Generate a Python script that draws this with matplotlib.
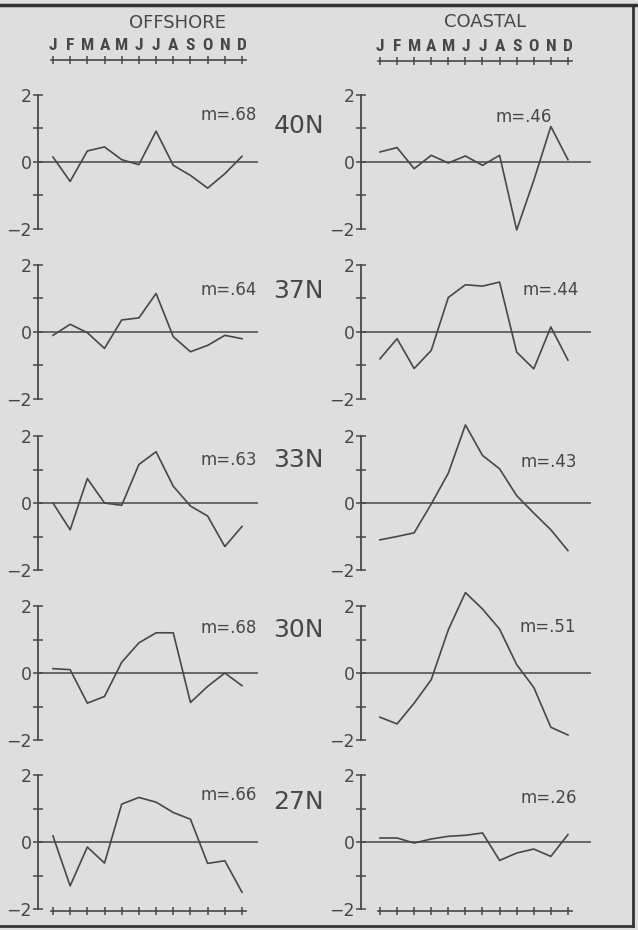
import matplotlib
matplotlib.use("Agg")
import matplotlib.pyplot as plt
from matplotlib.lines import Line2D

months = ["J", "F", "M", "A", "M", "J", "J", "A", "S", "O", "N", "D"]
latitudes = ["40N", "37N", "33N", "30N", "27N"]

offshore_m = [".68", ".64", ".63", ".68", ".66"]
coastal_m = [".46", ".44", ".43", ".51", ".26"]

offshore_40 = [0.15, -0.58, 0.33, 0.45, 0.07, -0.08, 0.92, -0.10, -0.40, -0.78, -0.35, 0.17]
offshore_37 = [-0.10, 0.23, -0.02, -0.49, 0.36, 0.42, 1.15, -0.14, -0.59, -0.40, -0.10, -0.20]
offshore_33 = [0.00, -0.80, 0.73, 0.00, -0.07, 1.15, 1.53, 0.50, -0.09, -0.39, -1.30, -0.70]
offshore_30 = [0.13, 0.10, -0.90, -0.70, 0.32, 0.90, 1.20, 1.20, -0.88, -0.40, 0.00, -0.38]
offshore_27 = [0.18, -1.31, -0.15, -0.63, 1.13, 1.33, 1.19, 0.88, 0.68, -0.64, -0.56, -1.50]

coastal_40 = [0.30, 0.43, -0.20, 0.20, -0.03, 0.18, -0.10, 0.20, -2.03, -0.55, 1.06, 0.07]
coastal_37 = [-0.80, -0.20, -1.09, -0.55, 1.03, 1.41, 1.37, 1.49, -0.60, -1.10, 0.15, -0.84]
coastal_33 = [-1.10, -1.00, -0.89, -0.03, 0.89, 2.33, 1.42, 1.02, 0.22, -0.30, -0.80, -1.42]
coastal_30 = [-1.32, -1.52, -0.90, -0.20, 1.29, 2.40, 1.91, 1.31, 0.25, -0.43, -1.62, -1.85]
coastal_27 = [0.12, 0.12, -0.03, 0.09, 0.17, 0.20, 0.27, -0.55, -0.33, -0.21, -0.43, 0.22]

offshore = [offshore_40, offshore_37, offshore_33, offshore_30, offshore_27]
coastal = [coastal_40, coastal_37, coastal_33, coastal_30, coastal_27]

# layout (pixels)
W, H = 638, 930
BG = "#dedede"
INK = "#474747"
row_tops = [95, 265, 436, 606, 775]
row_h = 134
left_x0, left_x1, left_xlim = 38, 258, (-0.87, 11.93)
right_x0, right_x1, right_xlim = 361, 591, (-1.11, 12.35)
left_m_y = [1.40, 1.25, 1.28, 1.34, 1.40]
right_m_x = [8.4, 10.0, 9.9, 9.8, 9.9]
right_m_y = [1.34, 1.25, 1.23, 1.37, 1.32]
lat_y = [1.07, 1.22, 1.28, 1.28, 1.20]

fig = plt.figure(figsize=(W / 100, H / 100), dpi=100)
fig.patch.set_facecolor(BG)


def px_axes(x0, x1, top, h):
    return fig.add_axes([x0 / W, 1 - (top + h) / H, (x1 - x0) / W, h / H])


def panel(x0, x1, xlim, top, values):
    ax = px_axes(x0, x1, top, row_h)
    ax.set_facecolor("none")
    ax.set_xlim(*xlim)
    ax.set_ylim(-2, 2)
    for side in ["top", "right", "bottom"]:
        ax.spines[side].set_visible(False)
    ax.spines["left"].set_color(INK)
    ax.spines["left"].set_linewidth(1.3)
    ax.set_xticks([])
    ax.set_yticks([-2, -1, 0, 1, 2])
    ax.set_yticklabels(["\u22122", "", "0", "", "2"])
    ax.tick_params(axis="y", direction="inout", length=7, width=1.1, color=INK,
                   labelsize=12.5, labelcolor=INK, pad=1)
    ax.axhline(0, color=INK, lw=1.1)
    ax.plot(range(12), values, color=INK, lw=1.2, clip_on=False)
    return ax


def month_scale(x0, x1, xlim, y, letters):
    mx = px_axes(x0, x1, y - 20, 20)
    mx.set_facecolor("none")
    mx.set_xlim(*xlim)
    mx.set_ylim(0, 1)
    for side in ["top", "right", "left"]:
        mx.spines[side].set_visible(False)
    mx.spines["bottom"].set_color(INK)
    mx.spines["bottom"].set_linewidth(1.2)
    mx.spines["bottom"].set_bounds(-0.1, 11.25)
    mx.set_yticks([])
    mx.set_xticks(range(12))
    mx.set_xticklabels([])
    mx.tick_params(axis="x", direction="inout", length=6, width=1.1, color=INK)
    if letters:
        for i, m in enumerate(months):
            mx.text(i, 0.35, m, ha="center", va="bottom", fontsize=12.5,
                    fontweight="bold", color=INK,
                    family=["Roboto Condensed", "Roboto", "DejaVu Sans"])


for r in range(5):
    axl = panel(left_x0, left_x1, left_xlim, row_tops[r], offshore[r])
    axl.text(11.87, left_m_y[r], "m=" + offshore_m[r], ha="right", va="center",
             fontsize=12, color=INK)
    axl.text(14.3, lat_y[r], latitudes[r], ha="center", va="center",
             fontsize=18, color=INK, clip_on=False)
    axr = panel(right_x0, right_x1, right_xlim, row_tops[r], coastal[r])
    axr.text(right_m_x[r], right_m_y[r], "m=" + coastal_m[r], ha="center",
             va="center", fontsize=12, color=INK)

month_scale(left_x0, left_x1, left_xlim, 60, True)
month_scale(right_x0, right_x1, right_xlim, 61, True)
month_scale(left_x0, left_x1, left_xlim, 911, False)
month_scale(right_x0, right_x1, right_xlim, 911, False)

fig.text(177 / W, 1 - 23 / H, "OFFSHORE", ha="center", va="center",
         fontsize=13, color=INK)
fig.text(485 / W, 1 - 22 / H, "COASTAL", ha="center", va="center",
         fontsize=13, color=INK)

# frame of the scanned page
fig.add_artist(Line2D([0, 1], [1 - 5 / H, 1 - 5 / H], transform=fig.transFigure,
                      color="#333333", lw=2.5))
fig.add_artist(Line2D([633 / W, 633 / W], [1 - 5 / H, 1 - 926 / H],
                      transform=fig.transFigure, color="#333333", lw=2.0))
fig.add_artist(Line2D([0, 633 / W], [1 - 926 / H, 1 - 926 / H],
                      transform=fig.transFigure, color="#333333", lw=2.0))

fig.savefig("out.png", dpi=100, facecolor=BG)
